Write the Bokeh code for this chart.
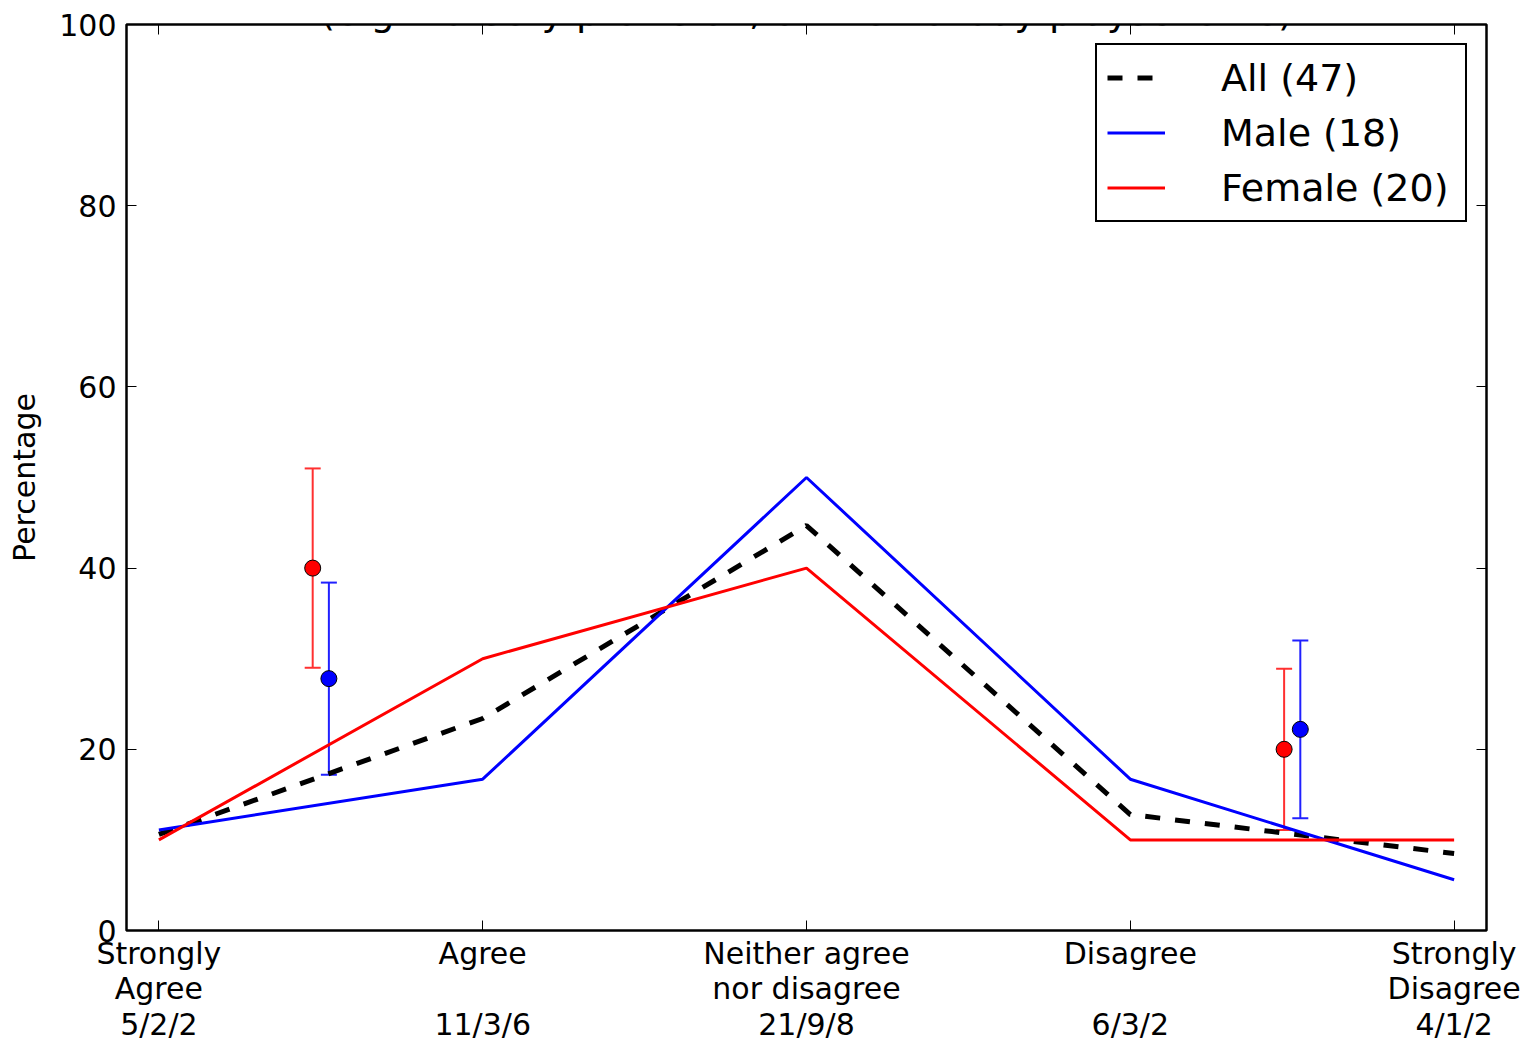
from bokeh.plotting import figure
from bokeh.models import (Range1d, FixedTicker, LinearAxis, Legend, LegendItem,
                          Label, Whisker, TeeHead, ColumnDataSource)
from bokeh.embed import file_html
from bokeh.resources import INLINE

# ---- data ----
categories = ["Strongly\nAgree\n5/2/2", "Agree\n\n11/3/6", "Neither agree\nnor disagree\n21/9/8",
              "Disagree\n\n6/3/2", "Strongly\nDisagree\n4/1/2"]
cat_pos = [0, 1, 2, 3, 4]
all_pct = [10.6, 23.4, 44.7, 12.8, 8.5]
male_pct = [11.1, 16.7, 50.0, 16.7, 5.6]
female_pct = [10.0, 30.0, 40.0, 10.0, 10.0]

female_sum_x = [0.475, 3.475]
female_sum_y = [40.0, 20.0]
female_sum_lo = [29.0, 11.1]
female_sum_hi = [51.0, 28.9]

male_sum_x = [0.525, 3.525]
male_sum_y = [27.8, 22.2]
male_sum_lo = [17.2, 12.4]
male_sum_hi = [38.4, 32.0]

y_ticks = [0, 20, 40, 60, 80, 100]
legend_labels = ["All (47)", "Male (18)", "Female (20)"]
title_text = "(e.g. nursery provision, or the holiday playscheme)"

FONT = "DejaVu Sans"

p = figure(output_backend="svg", toolbar_location=None,
           width=1529, height=1044,
           min_border_left=126, min_border_right=43, min_border_top=24, min_border_bottom=113,
           x_range=Range1d(-0.1, 4.1), y_range=Range1d(0, 100),
           x_axis_location=None, y_axis_location=None)
p.background_fill_color = "white"
p.border_fill_color = "white"
p.grid.visible = False
p.outline_line_color = "black"
p.outline_line_width = 2.5
p.outline_line_alpha = 1


def style_axis(ax, ticks, labels=True):
    ax.axis_line_color = None
    ax.major_tick_in = 10
    ax.major_tick_out = 0
    ax.minor_tick_line_color = None
    ax.major_tick_line_color = "black"
    ax.major_tick_line_width = 1
    ax.major_label_text_font = FONT
    ax.major_label_text_font_size = "30px"
    ax.major_label_text_color = "black"
    if not labels:
        ax.major_label_overrides = {t: "" for t in ticks}
        ax.major_label_standoff = 0


xb = LinearAxis(ticker=FixedTicker(ticks=cat_pos))
style_axis(xb, cat_pos)
xb.major_label_overrides = {i: c for i, c in zip(cat_pos, categories)}
xb.major_label_standoff = 5
xb.major_label_text_line_height = 1.02
p.add_layout(xb, "below")

xt = LinearAxis(ticker=FixedTicker(ticks=cat_pos))
style_axis(xt, cat_pos, labels=False)
p.add_layout(xt, "above")

yl = LinearAxis(ticker=FixedTicker(ticks=y_ticks), axis_label="Percentage")
style_axis(yl, y_ticks)
yl.major_label_standoff = 10
yl.axis_label_text_font = FONT
yl.axis_label_text_font_size = "30px"
yl.axis_label_text_font_style = "normal"
yl.axis_label_text_color = "black"
yl.axis_label_standoff = 14
p.add_layout(yl, "left")

yr = LinearAxis(ticker=FixedTicker(ticks=y_ticks))
style_axis(yr, y_ticks, labels=False)
p.add_layout(yr, "right")

# error bars
fsrc = ColumnDataSource(dict(x=female_sum_x, y=female_sum_y, lo=female_sum_lo, hi=female_sum_hi))
msrc = ColumnDataSource(dict(x=male_sum_x, y=male_sum_y, lo=male_sum_lo, hi=male_sum_hi))
for src, col in ((fsrc, "#ff3030"), (msrc, "#2020ff")):
    w = Whisker(source=src, base="x", lower="lo", upper="hi", dimension="height",
                line_color=col, line_width=2,
                upper_head=TeeHead(size=16, line_color=col, line_width=2),
                lower_head=TeeHead(size=16, line_color=col, line_width=2))
    p.add_layout(w)

r_all = p.line(cat_pos, all_pct, line_color="black", line_width=5, line_dash="15 15")
r_male = p.line(cat_pos, male_pct, line_color="blue", line_width=3)
r_female = p.line(cat_pos, female_pct, line_color="red", line_width=3)

p.scatter("x", "y", source=fsrc, size=16, fill_color="red", line_color="black", line_width=1)
p.scatter("x", "y", source=msrc, size=16, fill_color="blue", line_color="black", line_width=1)

legend = Legend(items=[LegendItem(label=legend_labels[0], renderers=[r_all]),
                       LegendItem(label=legend_labels[1], renderers=[r_male]),
                       LegendItem(label=legend_labels[2], renderers=[r_female])],
                location="top_right")
legend.margin = 19
legend.padding = 10
legend.spacing = 10
legend.glyph_width = 58
legend.glyph_height = 45
legend.label_height = 45
legend.label_width = 234
legend.label_standoff = 56
legend.label_text_font = FONT
legend.label_text_font_size = "38px"
legend.label_text_color = "black"
legend.label_text_baseline = "middle"
legend.border_line_color = "black"
legend.border_line_alpha = 1
legend.border_line_width = 2.5
legend.background_fill_color = "white"
legend.background_fill_alpha = 1
p.add_layout(legend)

title = Label(x=680, y=919, x_units="screen", y_units="screen", level="overlay",
              text=title_text, text_align="center", text_baseline="alphabetic",
              text_font=FONT, text_font_size="38px", text_color="black")
p.add_layout(title)

open("out.html", "w").write(file_html(p, INLINE))
